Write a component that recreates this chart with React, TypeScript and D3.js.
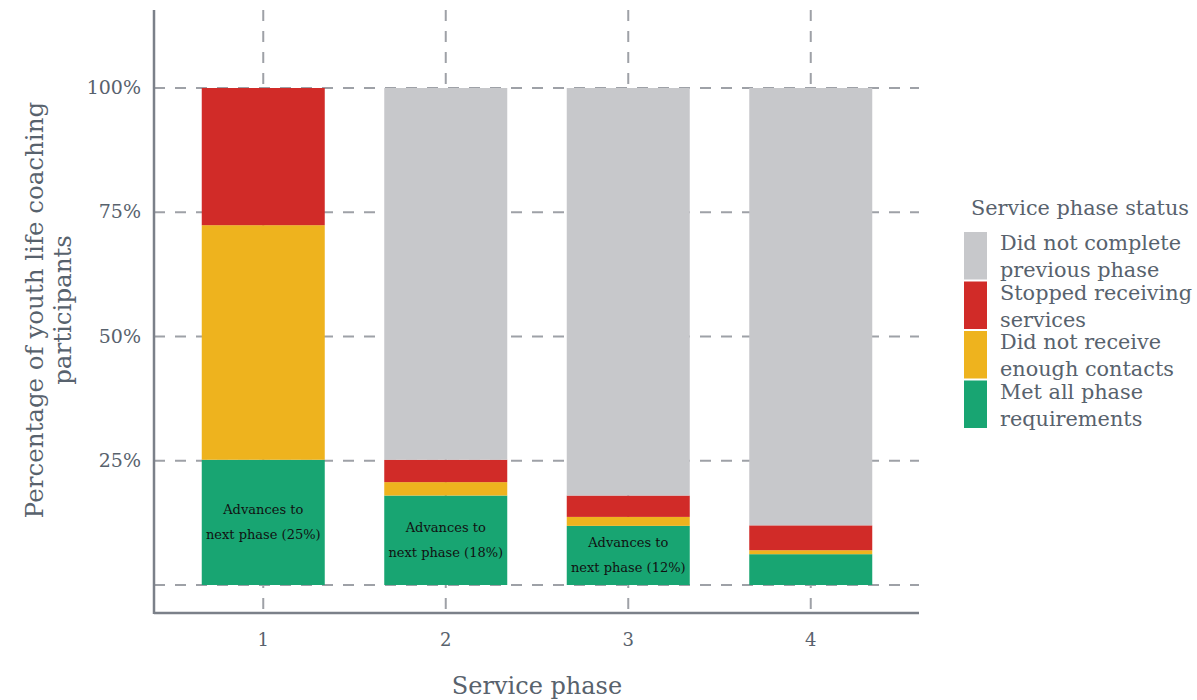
import React from "react";
import * as d3 from "d3";

const phases = ["1", "2", "3", "4"];
const metAll = [25.2, 18.0, 11.9, 6.2];
const notEnough = [47.2, 2.7, 1.8, 0.8];
const stopped = [27.6, 4.5, 4.3, 5.0];
const notComplete = [0, 74.8, 82.0, 88.0];
const barLabels = ["Advances to|next phase (25%)", "Advances to|next phase (18%)", "Advances to|next phase (12%)", ""];

const seriesKeys = ["met", "notEnough", "stopped", "notComplete"];
const seriesNames = [
  "Did not complete|previous phase",
  "Stopped receiving|services",
  "Did not receive|enough contacts",
  "Met all phase|requirements",
];
const legendKeys = ["notComplete", "stopped", "notEnough", "met"];
const colors: Record<string, string> = {
  met: "#18a572",
  notEnough: "#eeb31e",
  stopped: "#d12b28",
  notComplete: "#c7c8cb",
};
const yTicks = [0, 25, 50, 75, 100];
const yTickLabels = ["", "25%", "50%", "75%", "100%"];

const FONT = "'DejaVu Serif', serif";
const TEXT = "#58626d";
const GRID = "#9ea1a7";
const AXIS = "#7b8089";

export default function App() {
  const W = 1197, H = 700;
  const left = 154, right = 919, top = 10, bottom = 613;
  const x = d3.scaleBand().domain(phases).range([172, 902]).paddingInner(0.48).paddingOuter(0.24);
  const y = d3.scaleLinear().domain([0, 100]).range([585, 88]);

  const table = phases.map((p, i) => ({
    phase: p,
    met: metAll[i],
    notEnough: notEnough[i],
    stopped: stopped[i],
    notComplete: notComplete[i],
  }));
  const stack = d3.stack<any>().keys(seriesKeys)(table);
  const bw = 123;

  return (
    <svg width={W} height={H} style={{ display: "block", position: "absolute", left: 0, top: 0 }} fontFamily={FONT}>
      {/* gridlines */}
      {yTicks.map((t) => (
        <line key={"h" + t} x1={left} x2={right} y1={y(t)} y2={y(t)} stroke={GRID} strokeWidth={2} strokeDasharray="11 10" />
      ))}
      {phases.map((p) => {
        const cx = (x(p) as number) + x.bandwidth() / 2;
        return <line key={"v" + p} x1={cx} x2={cx} y1={top} y2={bottom} stroke={GRID} strokeWidth={2} strokeDasharray="11 10" />;
      })}
      {/* bars */}
      {stack.map((s) => (
        <g key={s.key} fill={colors[s.key]}>
          {s.map((d, i) => {
            const cx = (x(phases[i]) as number) + x.bandwidth() / 2;
            const h = y(d[0]) - y(d[1]);
            if (h <= 0) return null;
            return <rect key={i} x={cx - bw / 2} y={y(d[1])} width={bw} height={h} />;
          })}
        </g>
      ))}
      {/* bar labels */}
      {phases.map((p, i) => {
        if (!barLabels[i]) return null;
        const cx = (x(p) as number) + x.bandwidth() / 2;
        const cy = (y(0) + y(metAll[i])) / 2;
        const lines = barLabels[i].split("|");
        return (
          <text key={"bl" + p} x={cx} textAnchor="middle" fontSize={13} fill="#111" fontFamily={FONT}>
            <tspan x={cx} y={cy - 8}>{lines[0]}</tspan>
            <tspan x={cx} y={cy + 17}>{lines[1]}</tspan>
          </text>
        );
      })}
      {/* axes */}
      <line x1={left} x2={left} y1={top} y2={bottom + 1} stroke={AXIS} strokeWidth={2.5} />
      <line x1={left} x2={right} y1={bottom} y2={bottom} stroke={AXIS} strokeWidth={2.5} />
      {yTicks.map((t, i) => (
        <text key={"yt" + t} x={141} y={y(t) + 6} textAnchor="end" fontSize={19} fill={TEXT}>{yTickLabels[i]}</text>
      ))}
      {phases.map((p) => {
        const cx = (x(p) as number) + x.bandwidth() / 2;
        return <text key={"xt" + p} x={cx} y={646} textAnchor="middle" fontSize={18} fill={TEXT}>{p}</text>;
      })}
      <text x={537} y={694} textAnchor="middle" fontSize={24} fill={TEXT}>Service phase</text>
      <text transform="translate(0,310) rotate(-90)" textAnchor="middle" fontSize={24.5} fill={TEXT}>
        <tspan x={0} y={43}>Percentage of youth life coaching</tspan>
        <tspan x={0} y={71}>participants</tspan>
      </text>
      {/* legend */}
      <text x={971} y={215} fontSize={20.8} fill={TEXT}>Service phase status</text>
      {legendKeys.map((k, i) => {
        const y0 = 232 + i * 49.5;
        const lines = seriesNames[i].split("|");
        return (
          <g key={"lg" + k}>
            <rect x={964} y={y0} width={23} height={47.5} fill={colors[k]} />
            <text x={1000} fontSize={20.8} fill={TEXT}>
              <tspan x={1000} y={y0 + 18}>{lines[0]}</tspan>
              <tspan x={1000} y={y0 + 45}>{lines[1]}</tspan>
            </text>
          </g>
        );
      })}
    </svg>
  );
}
